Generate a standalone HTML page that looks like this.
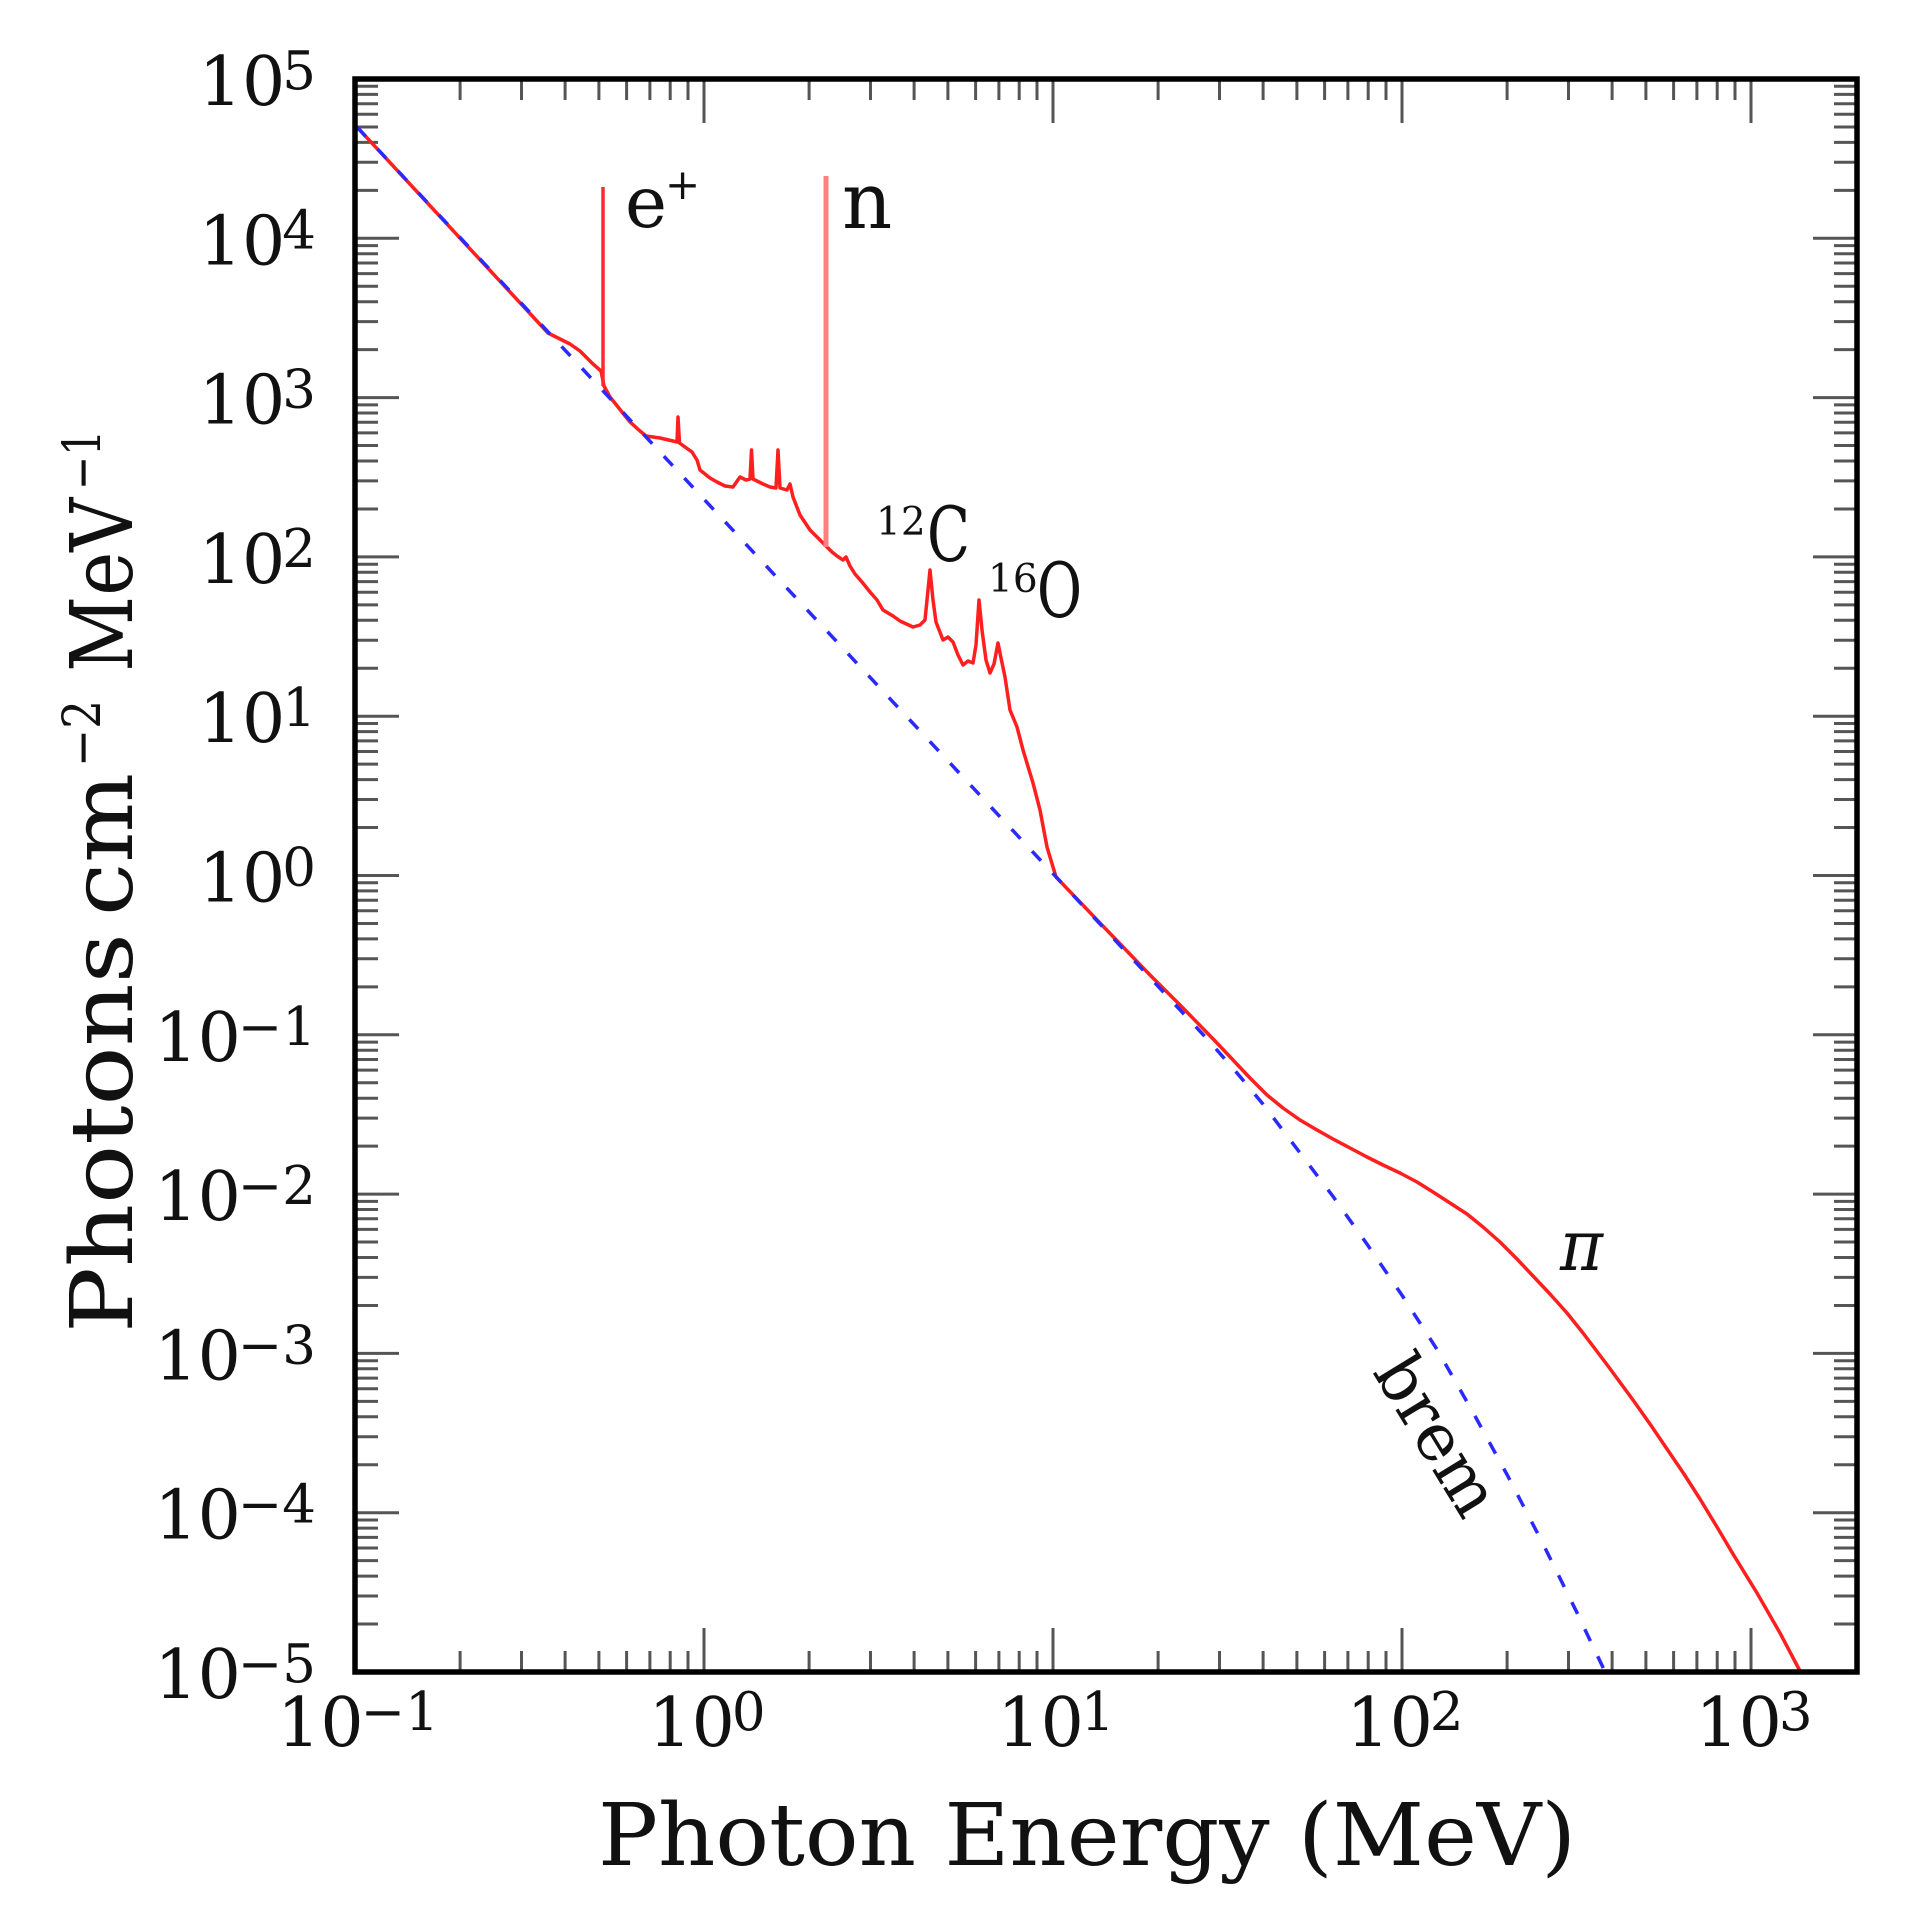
<!DOCTYPE html>
<html>
<head>
<meta charset="utf-8">
<style>
html,body{margin:0;padding:0;background:#fff;}
svg{display:block;}
text{font-family:"DejaVu Serif","Liberation Serif",serif;fill:#111;}
</style>
</head>
<body>
<svg width="1922" height="1916" viewBox="0 0 1922 1916">
<rect x="0" y="0" width="1922" height="1916" fill="#fff"/>

<!-- Y ticks (left) -->
<path stroke="#555" stroke-width="3" fill="none" d="
M355,1624.05h23M355,1596h23M355,1576.1h23M355,1560.65h23M355,1548h23M355,1537.4h23M355,1528.1h23M355,1520h23
M355,1464.75h23M355,1436.7h23M355,1416.8h23M355,1401.35h23M355,1388.7h23M355,1378.1h23M355,1368.8h23M355,1360.7h23
M355,1305.45h23M355,1277.4h23M355,1257.5h23M355,1242.05h23M355,1229.4h23M355,1218.8h23M355,1209.5h23M355,1201.4h23
M355,1146.15h23M355,1118.1h23M355,1098.2h23M355,1082.75h23M355,1070.1h23M355,1059.5h23M355,1050.2h23M355,1042.1h23
M355,986.85h23M355,958.8h23M355,938.9h23M355,923.45h23M355,910.8h23M355,900.2h23M355,890.9h23M355,882.8h23
M355,827.55h23M355,799.5h23M355,779.6h23M355,764.15h23M355,751.5h23M355,740.9h23M355,731.6h23M355,723.5h23
M355,668.25h23M355,640.2h23M355,620.3h23M355,604.85h23M355,592.2h23M355,581.6h23M355,572.3h23M355,564.2h23
M355,508.95h23M355,480.9h23M355,461h23M355,445.55h23M355,432.9h23M355,422.3h23M355,413h23M355,404.9h23
M355,349.65h23M355,321.6h23M355,301.7h23M355,286.25h23M355,273.6h23M355,263h23M355,253.7h23M355,245.6h23
M355,190.35h23M355,162.3h23M355,142.4h23M355,126.95h23M355,114.3h23M355,103.7h23M355,94.4h23M355,86.3h23
M355,1512.7h44M355,1353.4h44M355,1194.1h44M355,1034.8h44M355,875.5h44M355,716.2h44M355,556.9h44M355,397.6h44M355,238.3h44"/>
<!-- Y ticks (right, mirrored) -->
<path transform="translate(2212,0) scale(-1,1)" stroke="#555" stroke-width="3" fill="none" d="
M355,1624.05h23M355,1596h23M355,1576.1h23M355,1560.65h23M355,1548h23M355,1537.4h23M355,1528.1h23M355,1520h23
M355,1464.75h23M355,1436.7h23M355,1416.8h23M355,1401.35h23M355,1388.7h23M355,1378.1h23M355,1368.8h23M355,1360.7h23
M355,1305.45h23M355,1277.4h23M355,1257.5h23M355,1242.05h23M355,1229.4h23M355,1218.8h23M355,1209.5h23M355,1201.4h23
M355,1146.15h23M355,1118.1h23M355,1098.2h23M355,1082.75h23M355,1070.1h23M355,1059.5h23M355,1050.2h23M355,1042.1h23
M355,986.85h23M355,958.8h23M355,938.9h23M355,923.45h23M355,910.8h23M355,900.2h23M355,890.9h23M355,882.8h23
M355,827.55h23M355,799.5h23M355,779.6h23M355,764.15h23M355,751.5h23M355,740.9h23M355,731.6h23M355,723.5h23
M355,668.25h23M355,640.2h23M355,620.3h23M355,604.85h23M355,592.2h23M355,581.6h23M355,572.3h23M355,564.2h23
M355,508.95h23M355,480.9h23M355,461h23M355,445.55h23M355,432.9h23M355,422.3h23M355,413h23M355,404.9h23
M355,349.65h23M355,321.6h23M355,301.7h23M355,286.25h23M355,273.6h23M355,263h23M355,253.7h23M355,245.6h23
M355,190.35h23M355,162.3h23M355,142.4h23M355,126.95h23M355,114.3h23M355,103.7h23M355,94.4h23M355,86.3h23
M355,1512.7h44M355,1353.4h44M355,1194.1h44M355,1034.8h44M355,875.5h44M355,716.2h44M355,556.9h44M355,397.6h44M355,238.3h44"/>

<!-- X ticks (top) -->
<path stroke="#555" stroke-width="3" fill="none" d="
M460.1,79v21M521.5,79v21M565.1,79v21M598.9,79v21M626.6,79v21M649.9,79v21M670.2,79v21M688,79v21
M809.1,79v21M870.5,79v21M914.1,79v21M947.9,79v21M975.6,79v21M998.9,79v21M1019.2,79v21M1037,79v21
M1158.1,79v21M1219.5,79v21M1263.1,79v21M1296.9,79v21M1324.6,79v21M1347.9,79v21M1368.2,79v21M1386,79v21
M1507.1,79v21M1568.5,79v21M1612.1,79v21M1645.9,79v21M1673.6,79v21M1696.9,79v21M1717.2,79v21M1735,79v21
M704,79v44M1053,79v44M1402,79v44M1751,79v44"/>
<!-- X ticks (bottom, mirrored) -->
<path transform="translate(0,1751) scale(1,-1)" stroke="#555" stroke-width="3" fill="none" d="
M460.1,79v21M521.5,79v21M565.1,79v21M598.9,79v21M626.6,79v21M649.9,79v21M670.2,79v21M688,79v21
M809.1,79v21M870.5,79v21M914.1,79v21M947.9,79v21M975.6,79v21M998.9,79v21M1019.2,79v21M1037,79v21
M1158.1,79v21M1219.5,79v21M1263.1,79v21M1296.9,79v21M1324.6,79v21M1347.9,79v21M1368.2,79v21M1386,79v21
M1507.1,79v21M1568.5,79v21M1612.1,79v21M1645.9,79v21M1673.6,79v21M1696.9,79v21M1717.2,79v21M1735,79v21
M704,79v44M1053,79v44M1402,79v44M1751,79v44"/>

<!-- Red total spectrum -->
<path fill="none" stroke="#ff1f1f" stroke-width="3.5" stroke-linejoin="round" d="
M357,127 L548,333 L556,337 L570,344 L580,351 L593,364 L601,371 L604,386 L610,397 L630,422 L640,431 L646,436
L660,438 L673,441 L677,442 L678,417 L679.5,443 L685,447 L692,452 L697,460 L700,470 L710,478 L717,482 L725,486
L733,487 L740,477 L746,480 L750,479 L751.5,450 L753,479 L763,484 L770,487 L776,488 L778,450 L780,488 L787,490
L790,484 L793,497 L800,515 L810,530 L820,540 L826,546 L832,552 L837,556 L843,560 L846,557 L850,566 L855,574
L862,582 L870,592 L877,600 L883,610 L893,616 L900,621 L913,627 L920,625 L925,620 L930,570 L933,600 L936,622
L943,640 L948,637 L953,642 L958,655 L963,665 L968,661 L973,663 L976,645 L979,600 L982,630 L986,660 L990,673
L994,664 L998,643 L1001,658 L1005,677 L1010,710 L1017,727 L1023,750 L1033,783 L1040,810 L1047,847 L1056,877
L1100,923 L1125,949 L1150,975 L1183,1008 L1217,1043 L1250,1078 L1267,1095 L1283,1108 L1300,1120 L1317,1130
L1333,1139 L1350,1148 L1367,1157 L1383,1165 L1400,1173 L1417,1182 L1433,1192 L1450,1203 L1467,1214 L1483,1227
L1500,1242 L1517,1259 L1533,1276 L1550,1294 L1567,1313 L1583,1333 L1608,1366 L1633,1400 L1650,1424 L1667,1449
L1684,1474 L1700,1499 L1717,1527 L1733,1554 L1757,1593 L1780,1633 L1800,1671"/>
<!-- e+ line -->
<path stroke="#ff2a2a" stroke-width="3.5" fill="none" d="M603,187V386"/>
<!-- n line -->
<path stroke="#ff8080" stroke-width="5" fill="none" d="M826,176V547"/>

<!-- Blue dashed brem -->
<path fill="none" stroke="#2a2aff" stroke-width="3.5" stroke-dasharray="13 17" d="
M357,127 L1210,1042 L1237,1073 L1262.9,1104 L1297.8,1150 L1332.7,1196 L1367.6,1245 L1402.5,1296 L1437.4,1350
L1472.3,1411.1 L1507.2,1474.9 L1542.1,1542 L1577,1612.7 L1605,1671.7"/>

<!-- Frame -->
<rect x="355" y="79" width="1502" height="1593" fill="none" stroke="#000" stroke-width="5.5"/>

<!-- Y tick labels -->
<g font-size="68" text-anchor="end">
<text x="316" y="105">10<tspan dx="-3" dy="-16" font-size="53">5</tspan></text>
<text x="316" y="264.3">10<tspan dx="-3" dy="-16" font-size="53">4</tspan></text>
<text x="316" y="423.6">10<tspan dx="-3" dy="-16" font-size="53">3</tspan></text>
<text x="316" y="582.9">10<tspan dx="-3" dy="-16" font-size="53">2</tspan></text>
<text x="316" y="742.2">10<tspan dx="-3" dy="-16" font-size="53">1</tspan></text>
<text x="316" y="901.5">10<tspan dx="-3" dy="-16" font-size="53">0</tspan></text>
<text x="316" y="1060.8">10<tspan dx="-3" dy="-16" font-size="53">−1</tspan></text>
<text x="316" y="1220.1">10<tspan dx="-3" dy="-16" font-size="53">−2</tspan></text>
<text x="316" y="1379.4">10<tspan dx="-3" dy="-16" font-size="53">−3</tspan></text>
<text x="316" y="1538.7">10<tspan dx="-3" dy="-16" font-size="53">−4</tspan></text>
<text x="316" y="1698">10<tspan dx="-3" dy="-16" font-size="53">−5</tspan></text>
</g>

<!-- X tick labels -->
<g font-size="68" text-anchor="middle">
<text x="358" y="1746">10<tspan dx="-3" dy="-16" font-size="53">−1</tspan></text>
<text x="707" y="1746">10<tspan dx="-3" dy="-16" font-size="53">0</tspan></text>
<text x="1056" y="1746">10<tspan dx="-3" dy="-16" font-size="53">1</tspan></text>
<text x="1405" y="1746">10<tspan dx="-3" dy="-16" font-size="53">2</tspan></text>
<text x="1754" y="1746">10<tspan dx="-3" dy="-16" font-size="53">3</tspan></text>
</g>

<!-- Axis titles -->
<text x="598" y="1865" font-size="86" textLength="978" lengthAdjust="spacingAndGlyphs">Photon Energy (MeV)</text>
<g transform="rotate(-90)">
<text x="-1333" y="132" font-size="86" textLength="400" lengthAdjust="spacingAndGlyphs">Photons</text>
<text x="-916" y="132" font-size="86" textLength="143" lengthAdjust="spacingAndGlyphs">cm</text>
<text x="-767" y="100" font-size="52" textLength="67" lengthAdjust="spacingAndGlyphs">−2</text>
<text x="-672" y="132" font-size="86" textLength="174" lengthAdjust="spacingAndGlyphs">MeV</text>
<text x="-490" y="100" font-size="52" textLength="60" lengthAdjust="spacingAndGlyphs">−1</text>
</g>

<!-- Annotations -->
<text x="625" y="227" font-size="71">e</text>
<text x="665" y="199" font-size="42">+</text>
<text x="842" y="228" font-size="78">n</text>
<text x="876" y="535" font-size="39">12</text>
<text x="927" y="561" font-size="76" textLength="43" lengthAdjust="spacingAndGlyphs">C</text>
<text x="988" y="592" font-size="39">16</text>
<text x="1037" y="617" font-size="76" textLength="45" lengthAdjust="spacingAndGlyphs">O</text>
<text x="1560" y="1270" font-size="70" font-style="italic" textLength="43" lengthAdjust="spacingAndGlyphs">π</text>
<text transform="translate(1372,1372) rotate(58.5)" font-size="66">brem</text>
</svg>
</body>
</html>
